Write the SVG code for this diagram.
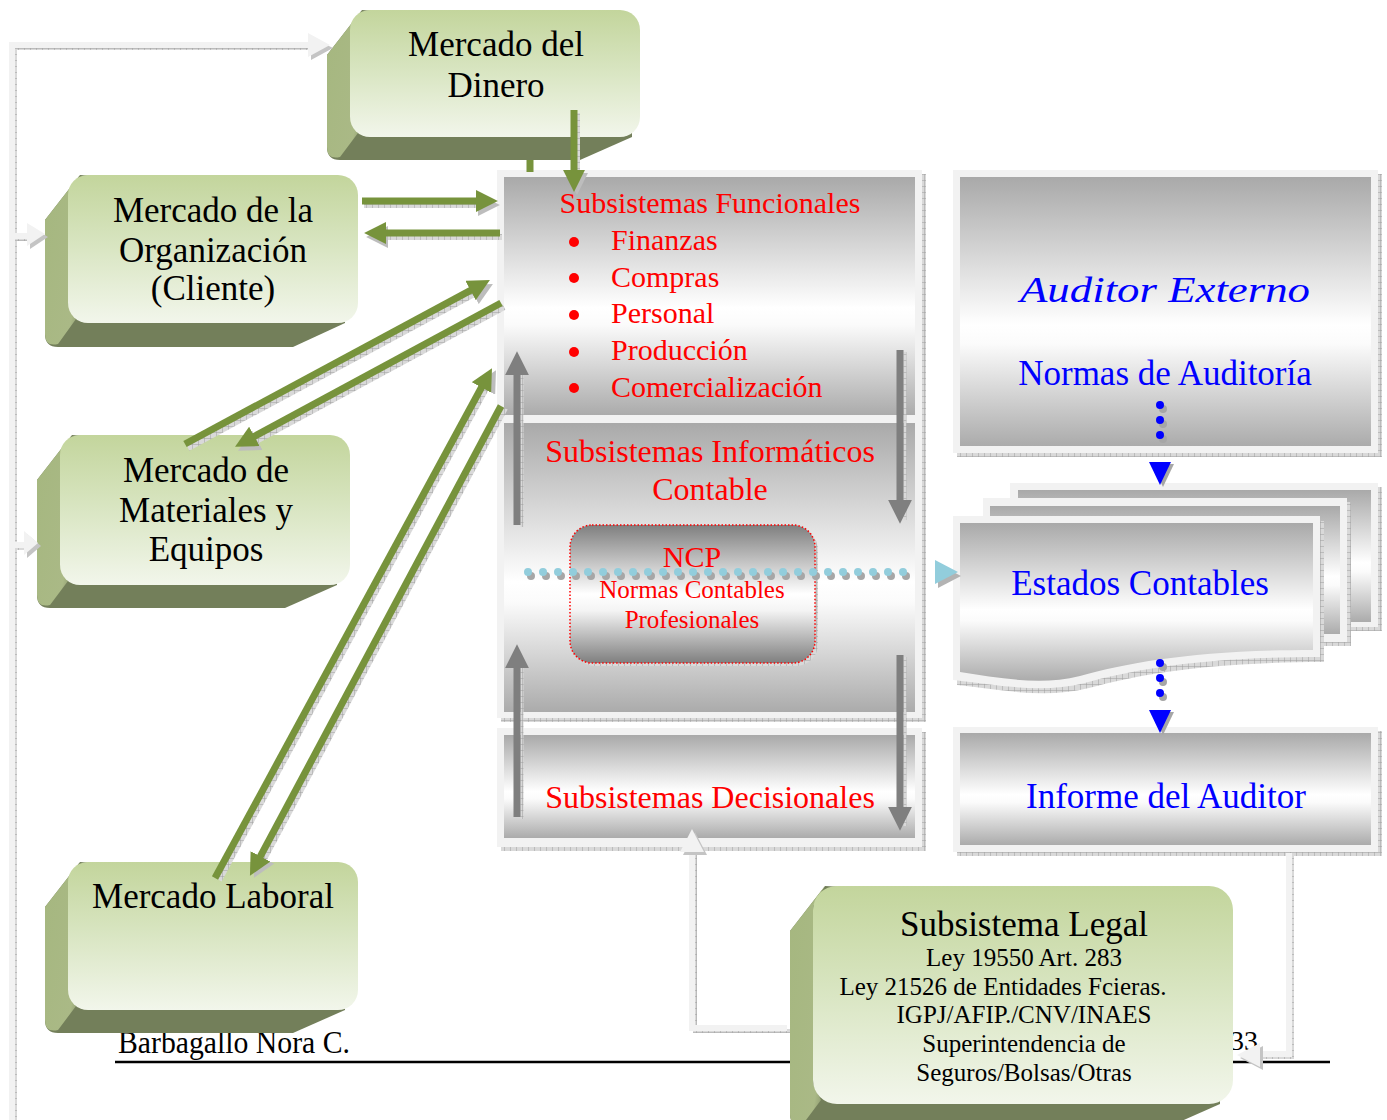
<svg xmlns="http://www.w3.org/2000/svg" width="1387" height="1120" viewBox="0 0 1387 1120">
<defs>
  <linearGradient id="gFront" x1="0" y1="0" x2="0" y2="1">
    <stop offset="0" stop-color="#c3d59c"/>
    <stop offset="0.45" stop-color="#d7e4bf"/>
    <stop offset="1" stop-color="#f2f6eb"/>
  </linearGradient>
  <linearGradient id="gSide" x1="0" y1="0" x2="1" y2="1">
    <stop offset="0" stop-color="#a5b77f"/>
    <stop offset="0.8" stop-color="#aab986"/>
    <stop offset="1" stop-color="#7d8963"/>
  </linearGradient>
  <linearGradient id="gPanel" x1="0" y1="0" x2="0" y2="1">
    <stop offset="0" stop-color="#a9a9a9"/>
    <stop offset="0.55" stop-color="#ffffff"/>
    <stop offset="0.62" stop-color="#fbfbfb"/>
    <stop offset="1" stop-color="#ababab"/>
  </linearGradient>
  <linearGradient id="gNcp" x1="0" y1="0" x2="0" y2="1">
    <stop offset="0" stop-color="#7f7f7f"/>
    <stop offset="0.5" stop-color="#ffffff"/>
    <stop offset="0.62" stop-color="#f4f4f4"/>
    <stop offset="1" stop-color="#7f7f7f"/>
  </linearGradient>
  <pattern id="hatch" width="6" height="6" patternUnits="userSpaceOnUse">
    <rect width="6" height="6" fill="#d9d9d9"/>
    <path d="M0,0H6M0,0V6" stroke="#9d9d9d" stroke-width="1"/>
  </pattern>
  <marker id="mGreen" viewBox="0 0 10 10" markerUnits="userSpaceOnUse" markerWidth="22" markerHeight="22" refX="0.5" refY="5" orient="auto">
    <path d="M0,0L10,5L0,10Z" fill="#77933c"/>
  </marker>
  <marker id="mShade" viewBox="0 0 10 10" markerUnits="userSpaceOnUse" markerWidth="22" markerHeight="22" refX="0.5" refY="5" orient="auto">
    <path d="M0,0L10,5L0,10Z" fill="#bdbdbd"/>
  </marker>
  <marker id="mGrey" viewBox="0 0 10 10" markerUnits="userSpaceOnUse" markerWidth="24" markerHeight="24" refX="0.5" refY="5" orient="auto">
    <path d="M0,0L10,5L0,10Z" fill="#7f7f7f"/>
  </marker>
</defs>
<style>
  .t { font-family: "Liberation Serif", "Times New Roman", serif; }
  .blk { fill: #000; font-size: 35px; text-anchor: middle; }
  .red { fill: #ff0000; }
  .blue { fill: #0000ff; text-anchor: middle; font-size: 35px; }
  .dark { fill: #737f5a; }
  .side { fill: url(#gSide); }
  .front { fill: url(#gFront); }
  .frame { fill: #f2f2f2; }
  .panel { fill: url(#gPanel); }
  .shadow { fill: url(#hatch); }
  .green { stroke: #77933c; stroke-width: 7; fill: none; marker-end: url(#mGreen); }
  .gshade { stroke: url(#hatch); stroke-width: 6; fill: none; marker-end: url(#mShade); }
  .grey { stroke: #7f7f7f; stroke-width: 7; fill: none; marker-end: url(#mGrey); }
  .greyshade { stroke: url(#hatch); stroke-width: 3; fill: none; }
  .light { stroke: #f2f2f2; stroke-width: 6; fill: none; }
  .lightshade { stroke: url(#hatch); stroke-width: 4; fill: none; }
  .lhead { fill: #f2f2f2; }
  .lhshade { fill: #c4c4c4; }
</style>

<!-- page footer -->
<g id="footer">
  <text class="t" x="118" y="1053" font-size="31" textLength="232" lengthAdjust="spacingAndGlyphs">Barbagallo Nora C.</text>
  <text class="t" x="1230" y="1050" font-size="28">33</text>
  <line x1="115" y1="1062" x2="1330" y2="1062" stroke="#000" stroke-width="2.5"/>
</g>

<!-- central subsystem panels -->
<g id="panel-funcionales">
  <rect class="shadow" x="501" y="174" width="425" height="247"/>
  <rect class="frame" x="497" y="170" width="425" height="247"/>
  <rect class="panel" x="504" y="177" width="411" height="238"/>
  <text class="t red" x="710" y="213" font-size="30" text-anchor="middle">Subsistemas Funcionales</text>
  <g class="red">
    <circle cx="574" cy="242" r="5"/>
    <circle cx="574" cy="278" r="5"/>
    <circle cx="574" cy="315" r="5"/>
    <circle cx="574" cy="352" r="5"/>
    <circle cx="574" cy="388" r="5"/>
  </g>
  <g class="t red" font-size="30">
    <text x="611" y="250">Finanzas</text>
    <text x="611" y="287">Compras</text>
    <text x="611" y="323">Personal</text>
    <text x="611" y="360">Producción</text>
    <text x="611" y="397">Comercialización</text>
  </g>
</g>

<g id="panel-informaticos">
  <rect class="shadow" x="501" y="420" width="425" height="302"/>
  <rect class="frame" x="497" y="416" width="425" height="302"/>
  <rect class="panel" x="504" y="423" width="411" height="289"/>
  <text class="t red" x="710" y="462" font-size="32" text-anchor="middle">Subsistemas Informáticos</text>
  <text class="t red" x="710" y="500" font-size="32" text-anchor="middle">Contable</text>
</g>

<g id="panel-decisionales">
  <rect class="shadow" x="501" y="732" width="425" height="119"/>
  <rect class="frame" x="497" y="728" width="425" height="119"/>
  <rect class="panel" x="504" y="735" width="411" height="103"/>
  <text class="t red" x="710" y="808" font-size="32" text-anchor="middle">Subsistemas Decisionales</text>
</g>

<g id="ncp">
  <rect class="shadow" x="573" y="528" width="245" height="138" rx="22"/>
  <rect x="570" y="525" width="245" height="138" rx="22" fill="url(#gNcp)" stroke="#ff0000" stroke-width="1.5" stroke-dasharray="1.5 2"/>
  <text class="t red" x="692" y="567" font-size="30" text-anchor="middle">NCP</text>
  <text class="t red" x="692" y="598" font-size="25" text-anchor="middle">Normas Contables</text>
  <text class="t red" x="692" y="628" font-size="25" text-anchor="middle">Profesionales</text>
</g>

<!-- auditor side -->
<g id="auditor-externo">
  <rect class="shadow" x="957" y="174" width="425" height="283"/>
  <rect class="frame" x="953" y="170" width="425" height="283"/>
  <rect class="panel" x="960" y="177" width="411" height="269"/>
  <text class="t blue" x="1165" y="302" font-size="45" font-style="italic" textLength="290" lengthAdjust="spacingAndGlyphs">Auditor Externo</text>
  <text class="t blue" x="1165" y="385">Normas de Auditoría</text>
</g>

<g id="estados-contables">
  <rect class="shadow" x="1014" y="487" width="368" height="144"/>
  <rect class="frame" x="1010" y="483" width="368" height="144"/>
  <rect class="panel" x="1018" y="490" width="353" height="132"/>
  <rect class="shadow" x="987" y="502" width="364" height="144"/>
  <rect class="frame" x="983" y="498" width="364" height="144"/>
  <rect class="panel" x="990" y="506" width="350" height="128"/>
  <path class="shadow" d="M957,521H1324V662C1209,662 1139,674 1089,688C1044,699 1004,690 957,685Z"/>
  <path class="frame" d="M953,516H1320V657C1205,657 1135,669 1085,683C1040,694 1000,685 953,680Z"/>
  <path class="panel" d="M960,523H1313V650C1200,650 1130,662 1080,676C1040,686 1000,678 960,672Z"/>
  <text class="t blue" x="1140" y="595">Estados Contables</text>
</g>

<g id="informe-auditor">
  <rect class="shadow" x="957" y="731" width="425" height="125"/>
  <rect class="frame" x="953" y="727" width="425" height="125"/>
  <rect class="panel" x="960" y="733" width="411" height="112"/>
  <text class="t blue" x="1166" y="808">Informe del Auditor</text>
</g>

<!-- market nodes (extruded blocks) -->
<g id="mercado-dinero">
  <path class="dark" d="M362,10L327,55L327,147Q327,160 340,160L580,160L632,137L632,30Z"/>
  <path class="side" d="M362,10L327,55L327,147Q327,160 340,157L358,133L350,117L350,30Z"/>
  <rect class="front" x="350" y="10" width="290" height="127" rx="20"/>
  <text class="t blk" x="496" y="56">Mercado del</text>
  <text class="t blk" x="496" y="97">Dinero</text>
</g>

<g id="mercado-organizacion">
  <path class="dark" d="M80,175L45,220L45,334Q45,347 58,347L293,347L345,323L345,195Z"/>
  <path class="side" d="M80,175L45,220L45,334Q45,347 58,344L76,319L68,303L68,195Z"/>
  <rect class="front" x="68" y="175" width="290" height="148" rx="20"/>
  <text class="t blk" x="213" y="222">Mercado de la</text>
  <text class="t blk" x="213" y="262">Organización</text>
  <text class="t blk" x="213" y="300">(Cliente)</text>
</g>

<g id="mercado-materiales">
  <path class="dark" d="M72,435L37,480L37,595Q37,608 50,608L285,608L337,585L337,455Z"/>
  <path class="side" d="M72,435L37,480L37,595Q37,608 50,605L68,581L60,565L60,455Z"/>
  <rect class="front" x="60" y="435" width="290" height="150" rx="20"/>
  <text class="t blk" x="206" y="482">Mercado de</text>
  <text class="t blk" x="206" y="522">Materiales y</text>
  <text class="t blk" x="206" y="561">Equipos</text>
</g>

<g id="mercado-laboral">
  <path class="dark" d="M80,862L45,907L45,1020Q45,1033 58,1033L293,1033L345,1010L345,882Z"/>
  <path class="side" d="M80,862L45,907L45,1020Q45,1033 58,1030L76,1006L68,990L68,882Z"/>
  <rect class="front" x="68" y="862" width="290" height="148" rx="20"/>
  <text class="t blk" x="213" y="908">Mercado Laboral</text>
</g>

<g id="subsistema-legal">
  <path class="dark" d="M825,886L790,931L790,1114Q790,1127 803,1127L1168,1127L1220,1104L1220,906Z"/>
  <path class="side" d="M825,886L790,931L790,1114Q790,1127 803,1124L821,1100L813,1084L813,906Z"/>
  <rect class="front" x="813" y="886" width="420" height="218" rx="24"/>
  <text class="t blk" x="1024" y="936" font-size="34">Subsistema Legal</text>
  <g class="t" font-size="25" text-anchor="middle">
    <text x="1024" y="966">Ley 19550 Art. 283</text>
    <text x="1003" y="995">Ley 21526 de Entidades Fcieras.</text>
    <text x="1024" y="1023">IGPJ/AFIP./CNV/INAES</text>
    <text x="1024" y="1052">Superintendencia de</text>
    <text x="1024" y="1081">Seguros/Bolsas/Otras</text>
  </g>
</g>

<!-- connectors -->
<g id="connectors">
  <!-- light outer feedback lines -->
  <path class="lightshade" d="M15,1120V48H310"/>
  <path class="light" d="M12,1120V45H309"/>
  <polygon class="lhshade" points="311,37 333,48 311,60"/>
  <polygon class="lhead" points="308,33 330,45 308,57"/>
  <path class="lightshade" d="M15,239H29"/>
  <path class="light" d="M12,236H28"/>
  <polygon class="lhshade" points="30,226 48,237 30,249"/>
  <polygon class="lhead" points="27,223 45,234 27,246"/>
  <path class="lightshade" d="M15,548H26"/>
  <path class="light" d="M12,545H25"/>
  <polygon class="lhshade" points="27,534 41,546 27,558"/>
  <polygon class="lhead" points="24,531 38,543 24,555"/>

  <!-- legal to decisional -->
  <path class="lightshade" d="M790,1031H695V854"/>
  <path class="light" d="M787,1028H692V852"/>
  <polygon class="lhshade" points="683,855 695,832 707,855"/>
  <polygon class="lhead" points="680,852 692,829 704,852"/>

  <!-- report to legal -->
  <path class="lightshade" d="M1292,856V1057H1262"/>
  <path class="light" d="M1289,853V1054H1259"/>
  <polygon class="lhshade" points="1263,1046 1240,1058 1263,1070"/>
  <polygon class="lhead" points="1260,1043 1237,1055 1260,1067"/>

  <!-- internal flows between panels -->
  <line class="greyshade" x1="522" y1="527" x2="522" y2="370"/>
  <line class="grey" x1="517" y1="525" x2="517" y2="374"/>
  <line class="greyshade" x1="905" y1="352" x2="905" y2="520"/>
  <line class="grey" x1="900" y1="350" x2="900" y2="501"/>
  <line class="greyshade" x1="522" y1="819" x2="522" y2="663"/>
  <line class="grey" x1="517" y1="817" x2="517" y2="667"/>
  <line class="greyshade" x1="905" y1="657" x2="905" y2="826"/>
  <line class="grey" x1="900" y1="655" x2="900" y2="808"/>

  <!-- market flows -->
  <line class="gshade" x1="577" y1="113" x2="577" y2="174"/>
  <line class="green" x1="574" y1="110" x2="574" y2="171"/>
  <line x1="530" y1="160" x2="530" y2="172" stroke="#77933c" stroke-width="7"/>
  <line class="gshade" x1="364" y1="205" x2="479" y2="205"/>
  <line class="green" x1="362" y1="201" x2="477" y2="201"/>
  <line class="gshade" x1="502" y1="237" x2="387" y2="237"/>
  <line class="green" x1="500" y1="233" x2="385" y2="233"/>
  <line class="gshade" x1="188" y1="448" x2="474.5" y2="293.9"/>
  <line class="green" x1="185" y1="444" x2="471.5" y2="289.9"/>
  <line class="gshade" x1="504" y1="307" x2="256.4" y2="440.9"/>
  <line class="green" x1="501" y1="303" x2="253.4" y2="436.9"/>
  <line class="gshade" x1="219" y1="880" x2="486" y2="388.5"/>
  <line class="green" x1="215" y1="878" x2="482" y2="386.5"/>
  <line class="gshade" x1="505" y1="408" x2="263.8" y2="859.4"/>
  <line class="green" x1="501" y1="406" x2="259.8" y2="857.4"/>

  <!-- accounting standards to financial statements -->
  <line x1="531" y1="576" x2="921" y2="576" stroke="#a6a6a6" stroke-width="8" stroke-linecap="round" stroke-dasharray="0 15"/>
  <line x1="528" y1="572" x2="918" y2="572" stroke="#92cddc" stroke-width="8" stroke-linecap="round" stroke-dasharray="0 15"/>
  <polygon points="938,564 961,576 938,588" fill="#b3b3b3"/>
  <polygon points="935,560 958,572 935,584" fill="#92cddc"/>

  <!-- audit standards to statements to report -->
  <line x1="1163" y1="409" x2="1163" y2="454" stroke="#a6a6a6" stroke-width="8" stroke-linecap="round" stroke-dasharray="0 15"/>
  <line x1="1160" y1="405" x2="1160" y2="450" stroke="#0000ff" stroke-width="8" stroke-linecap="round" stroke-dasharray="0 15"/>
  <polygon points="1152,464 1174,464 1163,487" fill="#a6a6a6"/>
  <polygon points="1149,462 1171,462 1160,485" fill="#0000ff"/>
  <line x1="1163" y1="667" x2="1163" y2="712" stroke="#a6a6a6" stroke-width="8" stroke-linecap="round" stroke-dasharray="0 15"/>
  <line x1="1160" y1="663" x2="1160" y2="708" stroke="#0000ff" stroke-width="8" stroke-linecap="round" stroke-dasharray="0 15"/>
  <polygon points="1152,712 1174,712 1163,735" fill="#a6a6a6"/>
  <polygon points="1149,710 1171,710 1160,733" fill="#0000ff"/>
</g>
</svg>
